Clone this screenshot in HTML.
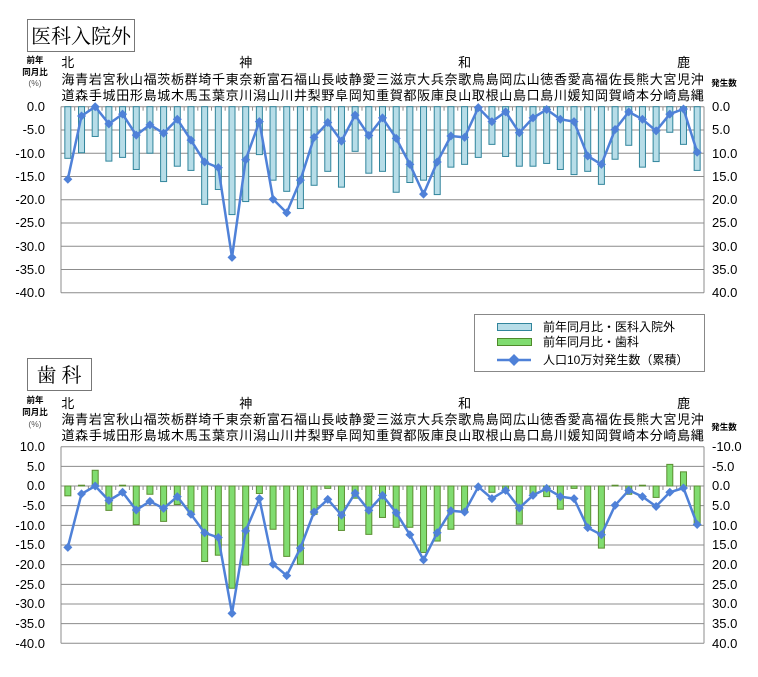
<!DOCTYPE html>
<html><head><meta charset="utf-8"><style>
body{margin:0;background:#fff;}
svg{display:block;font-family:"Liberation Sans","Noto Sans CJK JP",sans-serif;}
.cj{font-family:"Liberation Sans","Noto Sans CJK JP",sans-serif;font-size:13px;fill:#000;}
.tk{font-size:13px;fill:#000;}
.sm{font-size:8.5px;font-weight:bold;fill:#000;font-family:"Liberation Sans","Noto Sans CJK JP",sans-serif;}
</style></head><body>
<svg id="s" width="758" height="677" viewBox="0 0 758 677">
<rect x="27.5" y="19.5" width="107" height="32" fill="#fff" stroke="#777"/>
<text x="81" y="43" text-anchor="middle" style="font-family:'Liberation Serif','Noto Serif CJK SC',serif;font-size:20px">医科入院外</text>
<rect x="27.5" y="358.5" width="64" height="32" fill="#fff" stroke="#777"/>
<text x="59" y="382" text-anchor="middle" style="font-family:'Liberation Serif','Noto Serif CJK SC',serif;font-size:20px">歯 科</text>

<!-- top header -->
<text class="sm" x="35" y="63" text-anchor="middle">前年</text>
<text class="sm" x="35" y="75" text-anchor="middle">同月比</text>
<text class="sm" x="35" y="86" text-anchor="middle" style="font-weight:normal;fill:#555">(%)</text>
<text class="sm" x="724" y="86" text-anchor="middle">発生数</text>
<text class="cj" x="67.8" y="67" text-anchor="middle">北</text>
<text class="cj" x="245.7" y="67" text-anchor="middle">神</text>
<text class="cj" x="464.6" y="67" text-anchor="middle">和</text>
<text class="cj" x="683.6" y="67" text-anchor="middle">鹿</text>
<text class="cj" x="61.5" y="84" letter-spacing="0.68">海青岩宮秋山福茨栃群埼千東奈新富石福山長岐静愛三滋京大兵奈歌鳥島岡広山徳香愛高福佐長熊大宮児沖</text>
<text class="cj" x="61.5" y="100" letter-spacing="0.68">道森手城田形島城木馬玉葉京川潟山川井梨野阜岡知重賀都阪庫良山取根山島口島川媛知岡賀崎本分崎島縄</text>
<g class="tk" text-anchor="end">
<text x="45" y="111">0.0</text><text x="45" y="134">-5.0</text><text x="45" y="158">-10.0</text><text x="45" y="181">-15.0</text><text x="45" y="204">-20.0</text><text x="45" y="227">-25.0</text><text x="45" y="251">-30.0</text><text x="45" y="274">-35.0</text><text x="45" y="297">-40.0</text>
</g>
<g class="tk">
<text x="712" y="111">0.0</text><text x="712" y="134">5.0</text><text x="712" y="158">10.0</text><text x="712" y="181">15.0</text><text x="712" y="204">20.0</text><text x="712" y="227">25.0</text><text x="712" y="251">30.0</text><text x="712" y="274">35.0</text><text x="712" y="297">40.0</text>
</g>

<!-- legend -->
<rect x="474.5" y="314.5" width="230" height="57" fill="#fff" stroke="#888"/>
<rect x="497.5" y="323.5" width="34" height="7" fill="#b7dde8" stroke="#31859c"/>
<rect x="497.5" y="338.5" width="34" height="7" fill="#80dc70" stroke="#4f8a2b"/>
<line x1="497" y1="360" x2="531" y2="360" stroke="#4f81d8" stroke-width="2.5"/>
<path d="M514 354 L520 360 L514 366 L508 360Z" fill="#4f81d8"/>
<text class="cj" x="543" y="331" style="font-size:12px">前年同月比・医科入院外</text>
<text class="cj" x="543" y="346" style="font-size:12px">前年同月比・歯科</text>
<text class="cj" x="543" y="364" style="font-size:12px">人口10万対発生数（累積）</text>

<!-- bottom header -->
<text class="sm" x="35" y="403" text-anchor="middle">前年</text>
<text class="sm" x="35" y="415" text-anchor="middle">同月比</text>
<text class="sm" x="35" y="427" text-anchor="middle" style="font-weight:normal;fill:#555">(%)</text>
<text class="sm" x="724" y="430" text-anchor="middle">発生数</text>
<text class="cj" x="67.8" y="408" text-anchor="middle">北</text>
<text class="cj" x="245.7" y="408" text-anchor="middle">神</text>
<text class="cj" x="464.6" y="408" text-anchor="middle">和</text>
<text class="cj" x="683.6" y="408" text-anchor="middle">鹿</text>
<text class="cj" x="61.5" y="424" letter-spacing="0.68">海青岩宮秋山福茨栃群埼千東奈新富石福山長岐静愛三滋京大兵奈歌鳥島岡広山徳香愛高福佐長熊大宮児沖</text>
<text class="cj" x="61.5" y="440" letter-spacing="0.68">道森手城田形島城木馬玉葉京川潟山川井梨野阜岡知重賀都阪庫良山取根山島口島川媛知岡賀崎本分崎島縄</text>
<g class="tk" text-anchor="end">
<text x="45" y="451">10.0</text><text x="45" y="471">5.0</text><text x="45" y="490">0.0</text><text x="45" y="510">-5.0</text><text x="45" y="530">-10.0</text><text x="45" y="549">-15.0</text><text x="45" y="569">-20.0</text><text x="45" y="589">-25.0</text><text x="45" y="608">-30.0</text><text x="45" y="628">-35.0</text><text x="45" y="648">-40.0</text>
</g>
<g class="tk">
<text x="712" y="451">-10.0</text><text x="712" y="471">-5.0</text><text x="712" y="490">0.0</text><text x="712" y="510">5.0</text><text x="712" y="530">10.0</text><text x="712" y="549">15.0</text><text x="712" y="569">20.0</text><text x="712" y="589">25.0</text><text x="712" y="608">30.0</text><text x="712" y="628">35.0</text><text x="712" y="648">40.0</text>
</g>
<g id="g"></g>
</svg>
<script>
var NS="http://www.w3.org/2000/svg",g=document.getElementById("g");
function el(t,a){var e=document.createElementNS(NS,t);for(var k in a)e.setAttribute(k,a[k]);g.appendChild(e);return e;}
var L=61,R=704,W=(R-L)/47;function cx(i){return L+W*(i+0.5);}
var med=[11.1,9.9,6.4,11.7,10.9,13.5,10.0,16.1,12.8,13.7,21.0,17.8,23.2,20.4,10.3,15.8,18.2,21.9,16.9,13.9,17.3,9.6,14.3,13.9,18.4,16.3,15.8,18.9,13.0,12.4,10.9,8.1,10.7,12.8,12.8,12.2,13.5,14.6,13.9,16.7,11.3,8.3,13.0,11.8,5.5,8.1,13.7];
var den=[-2.5,0.2,4.0,-6.2,0.2,-9.8,-2.1,-9.0,-4.7,-7.0,-19.2,-17.6,-26.0,-20.1,-1.9,-11.0,-17.9,-19.9,-7.2,-0.6,-11.3,-3.1,-12.3,-8.0,-10.5,-10.5,-16.9,-14.0,-11.0,-6.4,-0.3,-1.6,-1.0,-9.7,-2.3,-2.7,-5.9,-0.6,-10.0,-15.8,0.2,-2.1,0.2,-2.9,5.5,3.6,-10.0];
var ln=[15.6,2.0,0,3.7,1.6,6.1,3.9,5.7,2.7,7.2,11.9,13.1,32.4,11.4,3.2,19.9,22.8,15.8,6.6,3.4,7.4,1.8,6.2,2.4,6.8,12.4,18.8,11.9,6.3,6.6,0.2,3.2,1.1,5.6,2.4,0.6,2.7,3.2,10.6,12.4,4.9,1.1,2.7,5.2,1.6,0.5,9.8];
function chart(y0,unit,gTop,nG,bars,fill,stroke,zeroY){
 for(var k=0;k<nG;k++){var y=gTop+k*5*unit;el("line",{x1:L,x2:R,y1:y,y2:y,stroke:"#8c8c8c","stroke-width":1});}
 var bot=gTop+(nG-1)*5*unit;
 el("line",{x1:L,x2:L,y1:gTop,y2:bot,stroke:"#8c8c8c"});el("line",{x1:R,x2:R,y1:gTop,y2:bot,stroke:"#8c8c8c"});
 for(var i=0;i<=47;i++){var x=L+W*i;el("line",{x1:x,x2:x,y1:zeroY,y2:zeroY+4,stroke:"#8c8c8c"});}
 for(var i=0;i<47;i++){var v=bars[i],y=zeroY-v*unit;el("rect",{x:cx(i)-3,y:Math.min(y,zeroY),width:6,height:Math.max(Math.abs(v*unit),0.5),fill:fill,stroke:stroke,"stroke-width":1});}
 var p="";for(var i=0;i<47;i++){p+=(i?"L":"M")+cx(i).toFixed(1)+" "+(zeroY+ln[i]*unit).toFixed(1);}
 el("path",{d:p,fill:"none",stroke:"#4f81d8","stroke-width":2.5,"stroke-linejoin":"round"});
 for(var i=0;i<47;i++){var x=cx(i),y=zeroY+ln[i]*unit;el("path",{d:"M"+x+" "+(y-4.5)+"L"+(x+4.5)+" "+y+"L"+x+" "+(y+4.5)+"L"+(x-4.5)+" "+y+"Z",fill:"#4f81d8"});}
}
chart(0,4.65,106.7,9,med.map(function(v){return -v;}),"#b7dde8","#31859c",106.7);
chart(0,3.932,446.7,11,den,"#80dc70","#5a8f30",486.0);
</script>
</body></html>
